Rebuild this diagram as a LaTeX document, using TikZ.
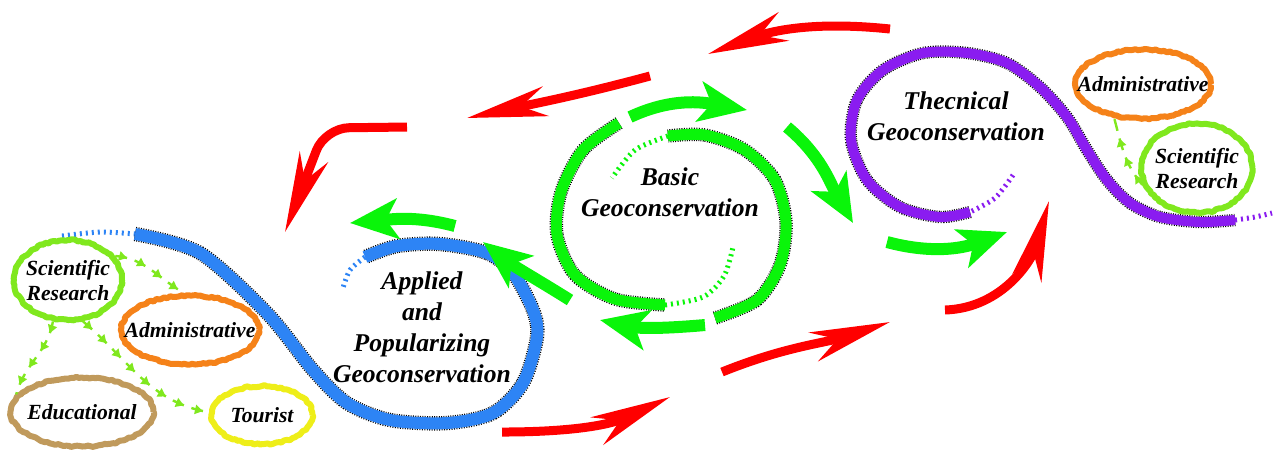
\documentclass[tikz,border=0pt]{standalone}
\usepackage{fontspec}
\setmainfont{Liberation Serif}
\usepackage{tikz}
\usetikzlibrary{shapes.geometric}
\usetikzlibrary{arrows.meta}
\usetikzlibrary{decorations.markings}
\usetikzlibrary{decorations.pathmorphing}
\definecolor{gcred}{RGB}{255,0,0}
\definecolor{gcgreen}{RGB}{10,245,10}
\definecolor{gclime}{RGB}{128,232,30}
\definecolor{gcorange}{RGB}{245,130,25}
\definecolor{gctan}{RGB}{192,154,92}
\definecolor{gcyellow}{RGB}{238,238,25}
\definecolor{gcblue}{RGB}{45,132,245}
\definecolor{gcpurple}{RGB}{138,28,240}
\tikzstyle{dasharr} = [draw=gclime,line width=0.6pt,dash pattern=on 3pt off 2pt,
  postaction={decorate,decoration={markings,
    mark=between positions 3pt and -0.25pt step 5pt with {\arrow{Triangle[length=2pt,width=2.3pt]}}}}]

\begin{document}
% one unit = 0.25pt, coordinates follow the 1274 x 455 layout
\begin{tikzpicture}[x=0.25pt,y=0.25pt,
  bigtxt/.style = {font=\fontsize{6.4}{7.75}\selectfont\bfseries\itshape,align=center},
  smalltxt/.style = {font=\fontsize{5.4}{6.25}\selectfont\bfseries\itshape,align=center},
  chalk/.style = {decorate,decoration={random steps,segment length=0.7pt,amplitude=0.22pt},
        line join=round},
  fuzz/.style = {preaction={draw,line width=#1+0.6pt,dash pattern=on 0.25pt off 0.35pt},
        line width=#1},
  fade/.style = {line width=1.25pt,dash pattern=on 0.5pt off 1pt},
  blob/.style = {ellipse,draw,line width=1.5pt,inner sep=0pt,chalk},
  redarr/.style = {draw=gcred,line width=2.25pt,-{Stealth[length=20pt,width=7.5pt,inset=6.25pt]}},
  greenarr/.style = {draw=gcgreen,line width=3pt,-{Stealth[length=12pt,width=10pt,inset=3pt]}}]
 \pgfmathsetseed{7}
 \useasboundingbox (0,0) rectangle (1274,-455);

 % big loops
 \draw[gcblue,fade] plot[smooth] coordinates {(62,-236) (100,-232) (135,-234)};
 \draw[gcblue,fuzz=3pt] plot[smooth] coordinates {(135,-234) (200,-253)
   (267,-313) (313,-370) (347,-403) (390,-420) (447,-423) (493,-413) (523,-383)
   (537,-337) (533,-310) (513,-273) (487,-253) (440,-244) (397,-246) (365,-257)};
 \draw[gcblue,fade] plot[smooth] coordinates {(365,-257) (350,-270) (343,-288)};

 \draw[gcpurple,fade] plot[smooth] coordinates {(1013,-175) (995,-198) (970,-212)};
 \draw[gcpurple,fuzz=2.5pt] plot[smooth] coordinates {(970,-212) (940,-217)
   (900,-207) (867,-180) (851,-140) (857,-100) (883,-70) (923,-53) (967,-53)
   (1007,-63) (1040,-87) (1067,-117) (1087,-150) (1107,-180) (1130,-203)
   (1160,-217) (1200,-222) (1235,-220)};
 \draw[gcpurple,fade] plot[smooth] coordinates {(1235,-220) (1255,-217) (1272,-213)};

 \draw[gcgreen,fuzz=2.75pt] plot[smooth] coordinates {(619,-123) (583,-150)
   (561,-192) (557,-235) (575,-275) (615,-299) (665,-305)};
 \draw[gcgreen,fade] plot[smooth] coordinates {(665,-305) (703,-297) (724,-276) (733,-247)};
 \draw[gcgreen,fuzz=2.75pt] plot[smooth] coordinates {(715,-318) (757,-300)
   (780,-265) (786,-222) (775,-180) (745,-150) (705,-135) (668,-136)};
 \draw[gcgreen,fade] plot[smooth] coordinates {(668,-136) (635,-150) (612,-178)};

 % big labels
 \node[bigtxt] (basic)     at (670,-192) {Basic\\Geoconservation};
 \node[bigtxt] (applied)   at (422,-327) {Applied\\and\\Popularizing\\Geoconservation};
 \node[bigtxt] (thecnical) at (956,-116) {Thecnical\\Geoconservation};

 % small ellipses
 \node[blob,draw=gclime,minimum width=27pt,minimum height=20pt,
   label={[smalltxt]center:{Scientific\\Research}}] (sciL) at (68,-280) {};
 \node[blob,draw=gcorange,minimum width=34.5pt,minimum height=17.25pt,
   label={[smalltxt]center:Administrative}] (admL) at (190,-330) {};
 \node[blob,draw=gctan,minimum width=35.75pt,minimum height=17.25pt,
   label={[smalltxt]center:Educational}] (eduL) at (82,-412) {};
 \node[blob,draw=gcyellow,minimum width=25.25pt,minimum height=14.5pt,
   label={[smalltxt]center:Tourist}] (tourL) at (262,-415) {};
 \node[blob,draw=gcorange,minimum width=34pt,minimum height=17.25pt,
   label={[smalltxt]center:Administrative}] (admR) at (1143,-84) {};
 \node[blob,draw=gclime,minimum width=27.75pt,minimum height=22.25pt,
   label={[smalltxt]center:{Scientific\\Research}}] (sciR) at (1197,-168) {};

 \draw[dasharr] (sciL.27) to[out=-5,in=150] (admL.100);
 \draw[dasharr] (sciL.250) to[out=-100,in=75] (eduL.165);
 \draw[dasharr] (sciL.290) to[out=-40,in=170] (tourL.177);
 \draw[dasharr] (sciR.197) to[out=130,in=-75] (admR.230);

 % cycle arrows
 \coordinate (ra1) at (890,-29);  \coordinate (ra2) at (708,-54);
 \coordinate (rb1) at (650,-76);  \coordinate (rb2) at (467,-118);
 \coordinate (rc1) at (407,-127); \coordinate (rc2) at (285,-232);
 \coordinate (rj1) at (502,-432); \coordinate (rj2) at (670,-397);
 \coordinate (rk1) at (722,-372); \coordinate (rk2) at (890,-322);
 \coordinate (rl1) at (945,-310); \coordinate (rl2) at (1049,-201);
 \coordinate (gd1) at (630,-117); \coordinate (gd2) at (747,-110);
 \coordinate (ge1) at (787,-127); \coordinate (ge2) at (853,-223);
 \coordinate (gf1) at (887,-242); \coordinate (gf2) at (1007,-232);
 \coordinate (gg1) at (705,-325); \coordinate (gg2) at (600,-320);
 \coordinate (gh1) at (570,-300); \coordinate (gh2) at (483,-242);
 \coordinate (gi1) at (455,-226); \coordinate (gi2) at (350,-223);

 \draw[redarr] (ra1) to[out=174,in=20] (ra2);
 \draw[redarr] (rb1) to[out=195,in=12] (rb2);
 \draw[redarr,rounded corners=6pt] (rc1) -- (325,-128) -- (rc2);
 \draw[redarr] (rj1) to[out=0,in=205] (rj2);
 \draw[redarr] (rk1) to[out=22,in=198] (rk2);
 \draw[redarr] (rl1) to[out=2,in=254] (rl2);
 \draw[greenarr] (gd1) to[out=25,in=170] (gd2);
 \draw[greenarr] (ge1) to[out=-40,in=120] (ge2);
 \draw[greenarr] (gf1) to[out=-15,in=200] (gf2);
 \draw[greenarr] (gg1) to[out=185,in=-12] (gg2);
 \draw[greenarr] (gh1) to[out=148,in=-38] (gh2);
 \draw[greenarr] (gi1) to[out=165,in=5] (gi2);
\end{tikzpicture}
\end{document}
